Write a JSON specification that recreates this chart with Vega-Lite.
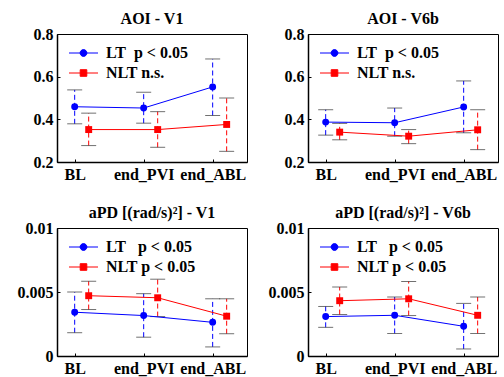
{
  "$schema": "https://vega.github.io/schema/vega-lite/v6.json",
  "padding": {"left": 16, "top": 10, "right": 2, "bottom": 2},
  "background": "#ffffff",
  "datasets": {
    "aoi_v1": [
      {"time": "BL", "idx": 1, "group": "LT", "mean": 0.459, "lo": 0.379, "hi": 0.538},
      {"time": "end_PVI", "idx": 2, "group": "LT", "mean": 0.453, "lo": 0.382, "hi": 0.527},
      {"time": "end_ABL", "idx": 3, "group": "LT", "mean": 0.552, "lo": 0.418, "hi": 0.683},
      {"time": "BL", "idx": 1, "group": "NLT", "mean": 0.352, "lo": 0.277, "hi": 0.429},
      {"time": "end_PVI", "idx": 2, "group": "NLT", "mean": 0.352, "lo": 0.269, "hi": 0.436},
      {"time": "end_ABL", "idx": 3, "group": "NLT", "mean": 0.376, "lo": 0.250, "hi": 0.500}
    ],
    "aoi_v6b": [
      {"time": "BL", "idx": 1, "group": "LT", "mean": 0.387, "lo": 0.326, "hi": 0.445},
      {"time": "end_PVI", "idx": 2, "group": "LT", "mean": 0.384, "lo": 0.321, "hi": 0.453},
      {"time": "end_ABL", "idx": 3, "group": "LT", "mean": 0.458, "lo": 0.337, "hi": 0.580},
      {"time": "BL", "idx": 1, "group": "NLT", "mean": 0.340, "lo": 0.304, "hi": 0.381},
      {"time": "end_PVI", "idx": 2, "group": "NLT", "mean": 0.321, "lo": 0.286, "hi": 0.352},
      {"time": "end_ABL", "idx": 3, "group": "NLT", "mean": 0.351, "lo": 0.258, "hi": 0.445}
    ],
    "apd_v1": [
      {"time": "BL", "idx": 1, "group": "LT", "mean": 0.00342, "lo": 0.00182, "hi": 0.00500},
      {"time": "end_PVI", "idx": 2, "group": "LT", "mean": 0.00316, "lo": 0.00147, "hi": 0.00487},
      {"time": "end_ABL", "idx": 3, "group": "LT", "mean": 0.00263, "lo": 0.00071, "hi": 0.00447},
      {"time": "BL", "idx": 1, "group": "NLT", "mean": 0.00471, "lo": 0.00363, "hi": 0.00584},
      {"time": "end_PVI", "idx": 2, "group": "NLT", "mean": 0.00455, "lo": 0.00308, "hi": 0.00600},
      {"time": "end_ABL", "idx": 3, "group": "NLT", "mean": 0.00311, "lo": 0.00174, "hi": 0.00447}
    ],
    "apd_v6b": [
      {"time": "BL", "idx": 1, "group": "LT", "mean": 0.00308, "lo": 0.00224, "hi": 0.00387},
      {"time": "end_PVI", "idx": 2, "group": "LT", "mean": 0.00318, "lo": 0.00176, "hi": 0.00461},
      {"time": "end_ABL", "idx": 3, "group": "LT", "mean": 0.00232, "lo": 0.00055, "hi": 0.00411},
      {"time": "BL", "idx": 1, "group": "NLT", "mean": 0.00432, "lo": 0.00324, "hi": 0.00539},
      {"time": "end_PVI", "idx": 2, "group": "NLT", "mean": 0.00447, "lo": 0.00316, "hi": 0.00582},
      {"time": "end_ABL", "idx": 3, "group": "NLT", "mean": 0.00318, "lo": 0.00176, "hi": 0.00461}
    ]
  },
  "columns": 2,
  "spacing": {"row": 66, "column": 61},
  "bounds": "flush",
  "resolve": {
    "scale": {"x": "independent", "y": "independent", "color": "independent", "stroke": "independent", "shape": "independent", "xOffset": "independent"},
    "axis": {"x": "independent", "y": "independent"}
  },
  "concat": [
    {
      "title": {"text": "AOI - V1", "frame": "group"},
      "width": 190, "height": 128,
      "data": {"name": "aoi_v1"},
      "encoding": {
        "x": {"field": "time", "type": "nominal", "sort": ["BL", "end_PVI", "end_ABL"], "title": null, "scale": {"type": "point", "padding": 0.377, "align": 0.34}, "axis": {"labelAngle": 0}},
        "xOffset": {"field": "group", "type": "nominal", "scale": {"type": "point", "domain": ["LT", "NLT"], "range": [0, 14], "padding": 0}},
        "color": {"field": "group", "type": "nominal", "scale": {"domain": ["LT", "NLT"], "range": ["#0000ff", "#ff0000"]},
          "legend": {"title": null, "orient": "top-left", "offset": 11, "padding": 0, "symbolSize": 100, "symbolOffset": 7.5, "symbolStrokeWidth": 1, "labelOffset": 14.5, "rowPadding": 4, "labelExpr": "datum.label === 'LT' ? 'LT\u00a0\u00a0p < 0.05' : 'NLT n.s.'"}}
      },
      "layer": [
        {"transform": [{"filter": "false"}],
         "mark": {"type": "point", "filled": true, "opacity": 1},
         "encoding": {"y": {"field": "mean", "type": "quantitative", "title": null, "scale": {"domain": [0.2, 0.8], "nice": false, "zero": false}, "axis": {"values": [0.2, 0.4, 0.6, 0.8], "format": ".1f"}},
           "stroke": {"field": "group", "type": "nominal", "scale": {"domain": ["LT", "NLT"], "range": ["#0000ff", "#ff0000"]},
             "legend": {"title": null, "orient": "top-left", "offset": 11, "padding": 0, "symbolSize": 100, "symbolOffset": 7.5, "symbolStrokeWidth": 1, "labelOffset": 14.5, "rowPadding": 4, "labelExpr": "datum.label === 'LT' ? 'LT\u00a0\u00a0p < 0.05' : 'NLT n.s.'"}},
           "shape": {"field": "group", "type": "nominal", "scale": {"domain": ["LT", "NLT"], "range": ["M-2.9,0L2.9,0M0.68,0A0.68,0.68,0,1,1,-0.68,0A0.68,0.68,0,1,1,0.68,0Z", "M-2.9,0L2.9,0M-0.66,-0.66L0.66,-0.66L0.66,0.66L-0.66,0.66Z"]},
             "legend": {"title": null, "orient": "top-left", "offset": 11, "padding": 0, "symbolSize": 100, "symbolOffset": 7.5, "symbolStrokeWidth": 1, "labelOffset": 14.5, "rowPadding": 4, "labelExpr": "datum.label === 'LT' ? 'LT\u00a0\u00a0p < 0.05' : 'NLT n.s.'"}}}},
        {"mark": {"type": "rule", "strokeDash": [5, 3], "strokeWidth": 1},
         "encoding": {"y": {"field": "lo", "type": "quantitative", "title": null}, "y2": {"field": "hi"}}},
        {"mark": {"type": "tick", "size": 15, "thickness": 1}, "encoding": {"y": {"field": "lo", "type": "quantitative", "title": null}, "color": {"value": "#333333"}}},
        {"mark": {"type": "tick", "size": 15, "thickness": 1}, "encoding": {"y": {"field": "hi", "type": "quantitative", "title": null}, "color": {"value": "#333333"}}},
        {"mark": {"type": "line", "strokeWidth": 1}, "encoding": {"y": {"field": "mean", "type": "quantitative", "title": null}, "order": {"field": "idx"}}},
        {"transform": [{"filter": "datum.group === 'LT'"}], "mark": {"type": "point", "shape": "circle", "filled": true, "opacity": 1, "size": 48}, "encoding": {"y": {"field": "mean", "type": "quantitative", "title": null}}},
        {"transform": [{"filter": "datum.group === 'NLT'"}], "mark": {"type": "point", "shape": "square", "filled": true, "opacity": 1, "size": 48}, "encoding": {"y": {"field": "mean", "type": "quantitative", "title": null}}}
      ]
    },
    {
      "title": {"text": "AOI - V6b", "frame": "group"},
      "width": 190, "height": 128,
      "data": {"name": "aoi_v6b"},
      "encoding": {
        "x": {"field": "time", "type": "nominal", "sort": ["BL", "end_PVI", "end_ABL"], "title": null, "scale": {"type": "point", "padding": 0.377, "align": 0.34}, "axis": {"labelAngle": 0}},
        "xOffset": {"field": "group", "type": "nominal", "scale": {"type": "point", "domain": ["LT", "NLT"], "range": [0, 14], "padding": 0}},
        "color": {"field": "group", "type": "nominal", "scale": {"domain": ["LT", "NLT"], "range": ["#0000ff", "#ff0000"]},
          "legend": {"title": null, "orient": "top-left", "offset": 11, "padding": 0, "symbolSize": 100, "symbolOffset": 7.5, "symbolStrokeWidth": 1, "labelOffset": 14.5, "rowPadding": 4, "labelExpr": "datum.label === 'LT' ? 'LT\u00a0\u00a0p < 0.05' : 'NLT n.s.'"}}
      },
      "layer": [
        {"transform": [{"filter": "false"}],
         "mark": {"type": "point", "filled": true, "opacity": 1},
         "encoding": {"y": {"field": "mean", "type": "quantitative", "title": null, "scale": {"domain": [0.2, 0.8], "nice": false, "zero": false}, "axis": {"values": [0.2, 0.4, 0.6, 0.8], "format": ".1f"}},
           "stroke": {"field": "group", "type": "nominal", "scale": {"domain": ["LT", "NLT"], "range": ["#0000ff", "#ff0000"]},
             "legend": {"title": null, "orient": "top-left", "offset": 11, "padding": 0, "symbolSize": 100, "symbolOffset": 7.5, "symbolStrokeWidth": 1, "labelOffset": 14.5, "rowPadding": 4, "labelExpr": "datum.label === 'LT' ? 'LT\u00a0\u00a0p < 0.05' : 'NLT n.s.'"}},
           "shape": {"field": "group", "type": "nominal", "scale": {"domain": ["LT", "NLT"], "range": ["M-2.9,0L2.9,0M0.68,0A0.68,0.68,0,1,1,-0.68,0A0.68,0.68,0,1,1,0.68,0Z", "M-2.9,0L2.9,0M-0.66,-0.66L0.66,-0.66L0.66,0.66L-0.66,0.66Z"]},
             "legend": {"title": null, "orient": "top-left", "offset": 11, "padding": 0, "symbolSize": 100, "symbolOffset": 7.5, "symbolStrokeWidth": 1, "labelOffset": 14.5, "rowPadding": 4, "labelExpr": "datum.label === 'LT' ? 'LT\u00a0\u00a0p < 0.05' : 'NLT n.s.'"}}}},
        {"mark": {"type": "rule", "strokeDash": [5, 3], "strokeWidth": 1},
         "encoding": {"y": {"field": "lo", "type": "quantitative", "title": null}, "y2": {"field": "hi"}}},
        {"mark": {"type": "tick", "size": 15, "thickness": 1}, "encoding": {"y": {"field": "lo", "type": "quantitative", "title": null}, "color": {"value": "#333333"}}},
        {"mark": {"type": "tick", "size": 15, "thickness": 1}, "encoding": {"y": {"field": "hi", "type": "quantitative", "title": null}, "color": {"value": "#333333"}}},
        {"mark": {"type": "line", "strokeWidth": 1}, "encoding": {"y": {"field": "mean", "type": "quantitative", "title": null}, "order": {"field": "idx"}}},
        {"transform": [{"filter": "datum.group === 'LT'"}], "mark": {"type": "point", "shape": "circle", "filled": true, "opacity": 1, "size": 48}, "encoding": {"y": {"field": "mean", "type": "quantitative", "title": null}}},
        {"transform": [{"filter": "datum.group === 'NLT'"}], "mark": {"type": "point", "shape": "square", "filled": true, "opacity": 1, "size": 48}, "encoding": {"y": {"field": "mean", "type": "quantitative", "title": null}}}
      ]
    },
    {
      "title": {"text": "aPD [(rad/s)²] - V1", "frame": "group"},
      "width": 190, "height": 128,
      "data": {"name": "apd_v1"},
      "encoding": {
        "x": {"field": "time", "type": "nominal", "sort": ["BL", "end_PVI", "end_ABL"], "title": null, "scale": {"type": "point", "padding": 0.377, "align": 0.34}, "axis": {"labelAngle": 0}},
        "xOffset": {"field": "group", "type": "nominal", "scale": {"type": "point", "domain": ["LT", "NLT"], "range": [0, 14], "padding": 0}},
        "color": {"field": "group", "type": "nominal", "scale": {"domain": ["LT", "NLT"], "range": ["#0000ff", "#ff0000"]},
          "legend": {"title": null, "orient": "top-left", "offset": 11, "padding": 0, "symbolSize": 100, "symbolOffset": 7.5, "symbolStrokeWidth": 1, "labelOffset": 14.5, "rowPadding": 4, "labelExpr": "datum.label === 'LT' ? 'LT\u00a0\u00a0\u00a0p < 0.05' : 'NLT p < 0.05'"}}
      },
      "layer": [
        {"transform": [{"filter": "false"}],
         "mark": {"type": "point", "filled": true, "opacity": 1},
         "encoding": {"y": {"field": "mean", "type": "quantitative", "title": null, "scale": {"domain": [0, 0.01], "nice": false}, "axis": {"values": [0, 0.005, 0.01], "format": "~g"}},
           "stroke": {"field": "group", "type": "nominal", "scale": {"domain": ["LT", "NLT"], "range": ["#0000ff", "#ff0000"]},
             "legend": {"title": null, "orient": "top-left", "offset": 11, "padding": 0, "symbolSize": 100, "symbolOffset": 7.5, "symbolStrokeWidth": 1, "labelOffset": 14.5, "rowPadding": 4, "labelExpr": "datum.label === 'LT' ? 'LT\u00a0\u00a0\u00a0p < 0.05' : 'NLT p < 0.05'"}},
           "shape": {"field": "group", "type": "nominal", "scale": {"domain": ["LT", "NLT"], "range": ["M-2.9,0L2.9,0M0.68,0A0.68,0.68,0,1,1,-0.68,0A0.68,0.68,0,1,1,0.68,0Z", "M-2.9,0L2.9,0M-0.66,-0.66L0.66,-0.66L0.66,0.66L-0.66,0.66Z"]},
             "legend": {"title": null, "orient": "top-left", "offset": 11, "padding": 0, "symbolSize": 100, "symbolOffset": 7.5, "symbolStrokeWidth": 1, "labelOffset": 14.5, "rowPadding": 4, "labelExpr": "datum.label === 'LT' ? 'LT\u00a0\u00a0\u00a0p < 0.05' : 'NLT p < 0.05'"}}}},
        {"mark": {"type": "rule", "strokeDash": [5, 3], "strokeWidth": 1},
         "encoding": {"y": {"field": "lo", "type": "quantitative", "title": null}, "y2": {"field": "hi"}}},
        {"mark": {"type": "tick", "size": 15, "thickness": 1}, "encoding": {"y": {"field": "lo", "type": "quantitative", "title": null}, "color": {"value": "#333333"}}},
        {"mark": {"type": "tick", "size": 15, "thickness": 1}, "encoding": {"y": {"field": "hi", "type": "quantitative", "title": null}, "color": {"value": "#333333"}}},
        {"mark": {"type": "line", "strokeWidth": 1}, "encoding": {"y": {"field": "mean", "type": "quantitative", "title": null}, "order": {"field": "idx"}}},
        {"transform": [{"filter": "datum.group === 'LT'"}], "mark": {"type": "point", "shape": "circle", "filled": true, "opacity": 1, "size": 48}, "encoding": {"y": {"field": "mean", "type": "quantitative", "title": null}}},
        {"transform": [{"filter": "datum.group === 'NLT'"}], "mark": {"type": "point", "shape": "square", "filled": true, "opacity": 1, "size": 48}, "encoding": {"y": {"field": "mean", "type": "quantitative", "title": null}}}
      ]
    },
    {
      "title": {"text": "aPD [(rad/s)²] - V6b", "frame": "group"},
      "width": 190, "height": 128,
      "data": {"name": "apd_v6b"},
      "encoding": {
        "x": {"field": "time", "type": "nominal", "sort": ["BL", "end_PVI", "end_ABL"], "title": null, "scale": {"type": "point", "padding": 0.377, "align": 0.34}, "axis": {"labelAngle": 0}},
        "xOffset": {"field": "group", "type": "nominal", "scale": {"type": "point", "domain": ["LT", "NLT"], "range": [0, 14], "padding": 0}},
        "color": {"field": "group", "type": "nominal", "scale": {"domain": ["LT", "NLT"], "range": ["#0000ff", "#ff0000"]},
          "legend": {"title": null, "orient": "top-left", "offset": 11, "padding": 0, "symbolSize": 100, "symbolOffset": 7.5, "symbolStrokeWidth": 1, "labelOffset": 14.5, "rowPadding": 4, "labelExpr": "datum.label === 'LT' ? 'LT\u00a0\u00a0\u00a0p < 0.05' : 'NLT p < 0.05'"}}
      },
      "layer": [
        {"transform": [{"filter": "false"}],
         "mark": {"type": "point", "filled": true, "opacity": 1},
         "encoding": {"y": {"field": "mean", "type": "quantitative", "title": null, "scale": {"domain": [0, 0.01], "nice": false}, "axis": {"values": [0, 0.005, 0.01], "format": "~g"}},
           "stroke": {"field": "group", "type": "nominal", "scale": {"domain": ["LT", "NLT"], "range": ["#0000ff", "#ff0000"]},
             "legend": {"title": null, "orient": "top-left", "offset": 11, "padding": 0, "symbolSize": 100, "symbolOffset": 7.5, "symbolStrokeWidth": 1, "labelOffset": 14.5, "rowPadding": 4, "labelExpr": "datum.label === 'LT' ? 'LT\u00a0\u00a0\u00a0p < 0.05' : 'NLT p < 0.05'"}},
           "shape": {"field": "group", "type": "nominal", "scale": {"domain": ["LT", "NLT"], "range": ["M-2.9,0L2.9,0M0.68,0A0.68,0.68,0,1,1,-0.68,0A0.68,0.68,0,1,1,0.68,0Z", "M-2.9,0L2.9,0M-0.66,-0.66L0.66,-0.66L0.66,0.66L-0.66,0.66Z"]},
             "legend": {"title": null, "orient": "top-left", "offset": 11, "padding": 0, "symbolSize": 100, "symbolOffset": 7.5, "symbolStrokeWidth": 1, "labelOffset": 14.5, "rowPadding": 4, "labelExpr": "datum.label === 'LT' ? 'LT\u00a0\u00a0\u00a0p < 0.05' : 'NLT p < 0.05'"}}}},
        {"mark": {"type": "rule", "strokeDash": [5, 3], "strokeWidth": 1},
         "encoding": {"y": {"field": "lo", "type": "quantitative", "title": null}, "y2": {"field": "hi"}}},
        {"mark": {"type": "tick", "size": 15, "thickness": 1}, "encoding": {"y": {"field": "lo", "type": "quantitative", "title": null}, "color": {"value": "#333333"}}},
        {"mark": {"type": "tick", "size": 15, "thickness": 1}, "encoding": {"y": {"field": "hi", "type": "quantitative", "title": null}, "color": {"value": "#333333"}}},
        {"mark": {"type": "line", "strokeWidth": 1}, "encoding": {"y": {"field": "mean", "type": "quantitative", "title": null}, "order": {"field": "idx"}}},
        {"transform": [{"filter": "datum.group === 'LT'"}], "mark": {"type": "point", "shape": "circle", "filled": true, "opacity": 1, "size": 48}, "encoding": {"y": {"field": "mean", "type": "quantitative", "title": null}}},
        {"transform": [{"filter": "datum.group === 'NLT'"}], "mark": {"type": "point", "shape": "square", "filled": true, "opacity": 1, "size": 48}, "encoding": {"y": {"field": "mean", "type": "quantitative", "title": null}}}
      ]
    }
  ],
  "config": {
    "font": "Liberation Serif",
    "view": {"stroke": "#000000", "strokeWidth": 1},
    "axis": {"grid": false, "labelFont": "Liberation Serif", "labelFontSize": 16, "labelFontWeight": "bold", "labelColor": "#000000", "domainColor": "#000000", "domainWidth": 1.5, "tickColor": "#000000", "tickSize": -3, "labelPadding": 7, "labelFlush": false},
    "legend": {"labelFont": "Liberation Serif", "labelFontSize": 16, "labelFontWeight": "bold", "labelColor": "#000000"},
    "title": {"font": "Liberation Serif", "fontSize": 16, "fontWeight": "bold", "color": "#000000", "offset": -1}
  }
}
